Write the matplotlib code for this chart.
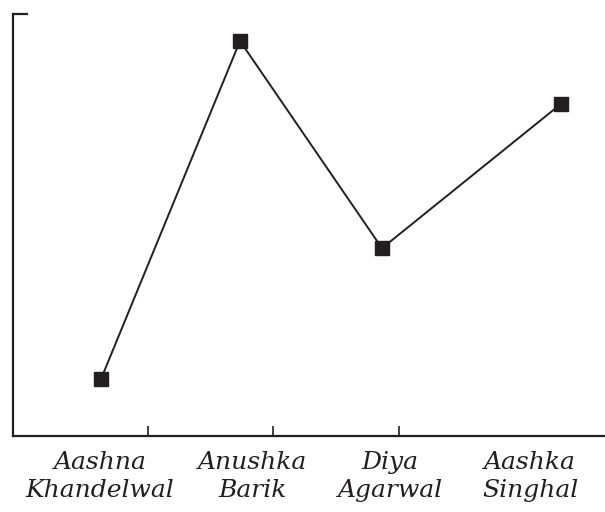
import matplotlib
matplotlib.use("Agg")
import matplotlib.pyplot as plt

# Data
categories = ["Aashna\nKhandelwal", "Anushka\nBarik", "Diya\nAgarwal", "Aashka\nSinghal"]
x_positions = [88, 227, 369, 548]
values = [13.5, 93.6, 44.5, 78.7]
label_positions = [87, 240, 377, 517]
x_ticks = [135, 260, 386]
y_ticks = [100]

ink = "#231f20"

fig = plt.figure(figsize=(6.05, 5.12), dpi=100)
ax = fig.add_axes([13 / 605, (512 - 436) / 512, 592 / 605, 422 / 512])

ax.plot(x_positions, values, color=ink, lw=1.4, marker="s", markersize=10,
        markerfacecolor=ink, markeredgecolor=ink, zorder=3)

ax.set_xlim(0, 592)
ax.set_ylim(0, 100)

for s in ["top", "right"]:
    ax.spines[s].set_visible(False)
for s in ["left", "bottom"]:
    ax.spines[s].set_color(ink)
    ax.spines[s].set_linewidth(1.6)

ax.set_xticks(x_ticks)
ax.set_xticklabels([])
ax.tick_params(axis="x", direction="in", length=7, width=1.2, color=ink)
ax.set_yticks(y_ticks)
ax.set_yticklabels([])
ax.tick_params(axis="y", direction="in", length=11, width=1.6, color=ink)

for lx, lab in zip(label_positions, categories):
    ax.text(lx, -3.5, lab, ha="center", va="top", fontsize=18,
            family="DejaVu Serif", style="italic", color=ink,
            linespacing=1.3, transform=ax.transData, clip_on=False)

fig.savefig("out.png", dpi=100)
